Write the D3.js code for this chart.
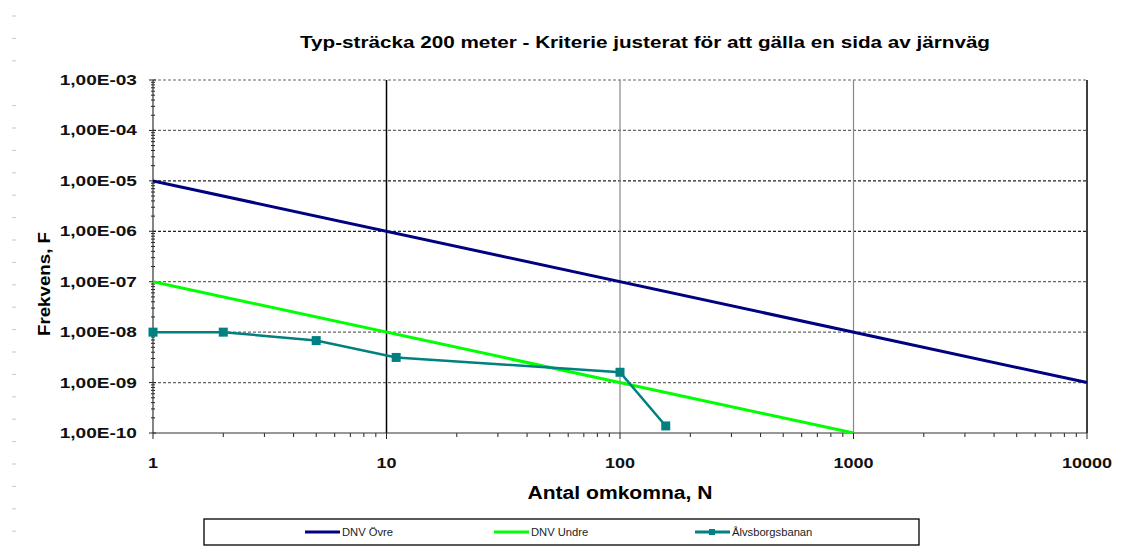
<!DOCTYPE html>
<html>
<head>
<meta charset="utf-8">
<script src="https://cdn.jsdelivr.net/npm/d3@7"></script>
<style>
  body { margin: 0; background: #fff; }
  svg { display: block; font-family: "Liberation Sans", Arial, sans-serif; }
  .tick-label { font-size: 15px; font-weight: bold; fill: #111; }
  .legend-label { font-size: 10px; fill: #222; }
</style>
</head>
<body>
<div id="chart"></div>
<script>
// series data
var ovreN = [1, 10000];
var ovreF = [1e-5, 1e-9];
var undreN = [1, 1000];
var undreF = [1e-7, 1e-10];
var alvN = [1, 2, 5, 11, 100, 157];
var alvF = [1e-8, 1e-8, 6.8e-9, 3.15e-9, 1.6e-9, 1.38e-10];

var xTicks = [1, 10, 100, 1000, 10000];
var yTicks = [1e-3, 1e-4, 1e-5, 1e-6, 1e-7, 1e-8, 1e-9, 1e-10];
var yTickLabels = ["1,00E-03", "1,00E-04", "1,00E-05", "1,00E-06", "1,00E-07", "1,00E-08", "1,00E-09", "1,00E-10"];

var seriesNames = ["DNV Övre", "DNV Undre", "Ålvsborgsbanan"];
var seriesColors = ["#000080", "#00ff00", "#008080"];

var W = 1124, H = 559;
// plot edges (window.top is taken, so short names)
var pL = 153, pR = 1087, pT = 80, pB = 433;

var svg = d3.select("#chart").append("svg")
  .attr("width", W)
  .attr("height", H);

// scan dashes along page edge
for (var i = 0; i < 24; i++) {
  if (i == 3) continue;
  svg.append("line")
    .attr("x1", 12).attr("x2", 16)
    .attr("y1", 16 + i * 22.4).attr("y2", 16 + i * 22.4)
    .attr("stroke", "#c8c8c8").attr("stroke-width", 1);
}

var x = d3.scaleLog().domain([1, 10000]).range([pL, pR]);
var y = d3.scaleLog().domain([1e-10, 1e-3]).range([pB, pT]);

// horizontal grid
svg.append("g").selectAll("line")
  .data(yTicks.slice(0, yTicks.length - 1))
  .join("line")
  .attr("x1", pL).attr("x2", pR)
  .attr("y1", d => y(d)).attr("y2", d => y(d))
  .attr("stroke", d => (d == 1e-5 || d == 1e-6) ? "#222" : "#666")
  .attr("stroke-width", 1.2)
  .attr("stroke-dasharray", "3,2");

// vertical grid
svg.append("g").selectAll("line")
  .data(xTicks.slice(1))
  .join("line")
  .attr("x1", d => x(d)).attr("x2", d => x(d))
  .attr("y1", pT).attr("y2", pB)
  .attr("stroke", d => (d == 10 || d == 10000) ? "#000" : "#888")
  .attr("stroke-width", d => (d == 10 || d == 10000) ? 1.5 : 1.2);

// minor ticks
var minorX = [];
var minorY = [];
for (var e = 0; e < 4; e++) for (var m = 2; m < 10; m++) minorX.push(m * Math.pow(10, e));
for (var e2 = -10; e2 < -3; e2++) for (var m2 = 2; m2 < 10; m2++) minorY.push(m2 * Math.pow(10, e2));

svg.append("g").selectAll("line")
  .data(minorX)
  .join("line")
  .attr("x1", d => x(d)).attr("x2", d => x(d))
  .attr("y1", pB).attr("y2", pB + 4)
  .attr("stroke", "#222").attr("stroke-width", 1);

svg.append("g").selectAll("line")
  .data(xTicks)
  .join("line")
  .attr("x1", d => x(d)).attr("x2", d => x(d))
  .attr("y1", pB).attr("y2", pB + 6)
  .attr("stroke", "#222").attr("stroke-width", 1);

svg.append("g").selectAll("line")
  .data(minorY)
  .join("line")
  .attr("x1", pL - 2).attr("x2", pL + 2)
  .attr("y1", d => y(d)).attr("y2", d => y(d))
  .attr("stroke", "#222").attr("stroke-width", 1);

svg.append("g").selectAll("line")
  .data(yTicks)
  .join("line")
  .attr("x1", pL - 4).attr("x2", pL + 3)
  .attr("y1", d => y(d)).attr("y2", d => y(d))
  .attr("stroke", "#222").attr("stroke-width", 1);

// axis lines
svg.append("line")
  .attr("x1", pL).attr("x2", pL).attr("y1", pT).attr("y2", pB)
  .attr("stroke", "#333").attr("stroke-width", 1.2);
svg.append("line")
  .attr("x1", pL).attr("x2", pR).attr("y1", pB).attr("y2", pB)
  .attr("stroke", "#333").attr("stroke-width", 1.2);

// the scan is stretched sideways, so widen text to match
function stretch(sel, k) {
  sel.each(function () {
    var w = this.getComputedTextLength();
    d3.select(this).attr("textLength", w * k).attr("lengthAdjust", "spacingAndGlyphs");
  });
}

// tick labels
svg.append("g").selectAll("text")
  .data(yTicks)
  .join("text")
  .attr("class", "tick-label")
  .attr("x", pL - 16)
  .attr("y", d => y(d) + 5)
  .attr("text-anchor", "end")
  .text((d, i) => yTickLabels[i])
  .call(stretch, 1.27);

svg.append("g").selectAll("text")
  .data(xTicks)
  .join("text")
  .attr("class", "tick-label")
  .attr("x", d => x(d))
  .attr("y", pB + 35)
  .attr("text-anchor", "middle")
  .text(d => d)
  .call(stretch, 1.2);

// titles
svg.append("text")
  .attr("x", 645).attr("y", 48)
  .attr("text-anchor", "middle")
  .attr("font-size", 16).attr("font-weight", "bold")
  .attr("textLength", 690).attr("lengthAdjust", "spacingAndGlyphs")
  .text("Typ-sträcka 200 meter - Kriterie justerat för att gälla en sida av järnväg");

svg.append("text")
  .attr("x", 620).attr("y", 499)
  .attr("text-anchor", "middle")
  .attr("font-size", 18).attr("font-weight", "bold")
  .attr("textLength", 185).attr("lengthAdjust", "spacingAndGlyphs")
  .text("Antal omkomna, N");

svg.append("text")
  .attr("transform", "translate(50,284) rotate(-90)")
  .attr("text-anchor", "middle")
  .attr("font-size", 16).attr("font-weight", "bold")
  .attr("textLength", 104).attr("lengthAdjust", "spacingAndGlyphs")
  .text("Frekvens, F");

// series
svg.append("clipPath").attr("id", "plot")
  .append("rect").attr("x", pL).attr("y", pT - 2)
  .attr("width", pR - pL + 2).attr("height", pB - pT + 2);

var line = d3.line().x(d => x(d[0])).y(d => y(d[1]));
var plot = svg.append("g").attr("clip-path", "url(#plot)");

plot.append("path")
  .attr("d", line(d3.zip(ovreN, ovreF)))
  .attr("fill", "none").attr("stroke", seriesColors[0]).attr("stroke-width", 3);

plot.append("path")
  .attr("d", line(d3.zip(undreN, undreF)))
  .attr("fill", "none").attr("stroke", seriesColors[1]).attr("stroke-width", 3);

svg.append("path")
  .attr("d", line(d3.zip(alvN, alvF)))
  .attr("fill", "none").attr("stroke", seriesColors[2]).attr("stroke-width", 2.5);

svg.append("g").selectAll("rect")
  .data(d3.zip(alvN, alvF))
  .join("rect")
  .attr("x", d => x(d[0]) - 4.5).attr("y", d => y(d[1]) - 4.5)
  .attr("width", 9).attr("height", 9)
  .attr("fill", seriesColors[2]);

// legend
svg.append("rect")
  .attr("x", 204).attr("y", 519)
  .attr("width", 715).attr("height", 26)
  .attr("fill", "#fff").attr("stroke", "#000").attr("stroke-width", 1.3);

var legendX = [305, 494, 695];
var lg = svg.append("g").selectAll("g")
  .data(seriesNames)
  .join("g")
  .attr("transform", (d, i) => `translate(${legendX[i]},532)`);

lg.append("line")
  .attr("x1", 0).attr("x2", 35).attr("y1", 0).attr("y2", 0)
  .attr("stroke", (d, i) => seriesColors[i]).attr("stroke-width", 3);
lg.filter((d, i) => i == 2).append("rect")
  .attr("x", 14).attr("y", -3).attr("width", 6).attr("height", 6)
  .attr("fill", seriesColors[2]);
lg.append("text")
  .attr("class", "legend-label")
  .attr("x", 37).attr("y", 3.5)
  .text(d => d)
  .call(stretch, 1.12);
</script>
</body>
</html>
